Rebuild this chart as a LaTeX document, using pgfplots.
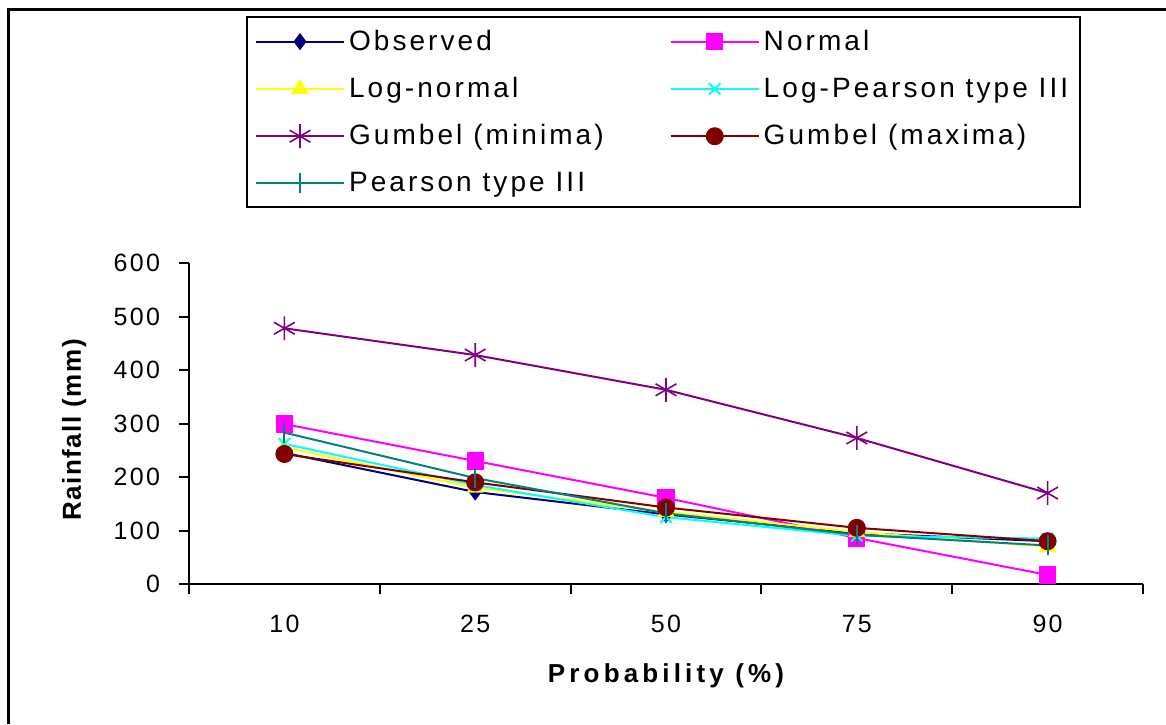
\documentclass[border=0pt]{standalone}
\usepackage{pgfplots}
\pgfplotsset{compat=1.18}
\usepackage{fontspec}
\setmainfont{Liberation Sans}
\newfontfamily\legfont[LetterSpace=11]{Liberation Sans}
\newfontfamily\tickfont[LetterSpace=9]{Liberation Sans}
\newfontfamily\ylabfont[LetterSpace=6]{Liberation Sans}
\newfontfamily\xlabfont[LetterSpace=16]{Liberation Sans}
\definecolor{cobs}{RGB}{0,0,128}
\definecolor{cnorm}{RGB}{255,0,255}
\definecolor{clogn}{RGB}{255,255,0}
\definecolor{clp}{RGB}{0,255,255}
\definecolor{cgmin}{RGB}{128,0,128}
\definecolor{cgmax}{RGB}{128,0,0}
\definecolor{cp3}{RGB}{0,128,128}
\begin{document}
\begin{tikzpicture}
\path[use as bounding box] (0pt,0pt) rectangle (583pt,362pt);
\draw[line width=1.5pt] (4pt,0pt) -- (4pt,357pt) -- (583pt,357pt);
\begin{axis}[
  at={(94.5pt,70pt)}, anchor=south west,
  scale only axis, width=477pt, height=160.5pt,
  xmin=-0.5, xmax=4.5, ymin=0, ymax=600,
  ytick={0,100,...,600},
  xtick={0,1,2,3,4}, xticklabels={10,25,50,75,90},
  minor xtick={-0.5,0.5,1.5,2.5,3.5,4.5},
  axis lines=left,
  axis line style={-, line width=1pt},
  tick align=outside,
  major tick length=5pt, minor tick length=5pt,
  major x tick style={draw=none},
  every tick/.style={black, line width=1pt},
  minor x tick style={black, line width=1pt},
  ytick style={black, line width=1pt},
  /pgf/number format/assume math mode=true,
  ticklabel style={font=\tickfont\fontsize{12.5}{14}\selectfont},
  xticklabel style={yshift=-7pt},
  yticklabel style={xshift=-6pt},
  xlabel={\xlabfont\bfseries\fontsize{13}{15}\selectfont Probability (\%)},
  ylabel={\ylabfont\bfseries\fontsize{13}{15}\selectfont Rainfall (mm)},
  xlabel style={at={(axis description cs:0.5,0)}, anchor=center, yshift=-46pt},
  ylabel style={at={(axis description cs:-0.1205,0.48)}, anchor=center},
  legend columns=2,
  legend style={at={(123pt-94.5pt, 354pt-70pt)}, anchor=north west,
    draw=black, line width=1pt, inner xsep=4pt, inner ysep=4.5pt,
    font=\legfont\fontsize{14}{16}\selectfont,
    row sep=8pt,
    /tikz/every even column/.append style={column sep=31pt},
    cells={anchor=west}},
  legend image code/.code={\draw[mark repeat=2,mark phase=2] plot coordinates {(0pt,0pt) (22pt,0pt) (44pt,0pt)};},
  every axis plot/.append style={line width=1pt},
]
\addplot[cobs, mark=diamond*, mark size=3.5pt, mark options={fill=cobs, draw=cobs}] coordinates {(0,245) (1,172) (2,130) (3,95) (4,80)};
\addlegendentry{Observed}
\addplot[cnorm, mark=square*, mark size=3.8pt, mark options={fill=cnorm, draw=cnorm}] coordinates {(0,299) (1,230) (2,161) (3,86) (4,17)};
\addlegendentry{Normal}
\addplot[clogn, mark=triangle*, mark size=4pt, mark options={fill=clogn, draw=clogn}] coordinates {(0,255) (1,180) (2,135) (3,97) (4,70)};
\addlegendentry{Log-normal}
\addplot[clp, mark=x, mark size=4pt, mark options={draw=clp}] coordinates {(0,262) (1,185) (2,125) (3,90) (4,85)};
\addlegendentry{Log-Pearson type III}
\addplot[cgmin, mark=asterisk, mark size=6pt, mark options={draw=cgmin, line width=0.8pt}] coordinates {(0,478) (1,428) (2,363) (3,273) (4,170)};
\addlegendentry{Gumbel (minima)}
\addplot[cgmax, mark=*, mark size=4pt, mark options={fill=cgmax, draw=cgmax}] coordinates {(0,243) (1,190) (2,143) (3,105) (4,80)};
\addlegendentry{Gumbel (maxima)}
\addplot[cp3, mark=|, mark size=5pt, mark options={draw=cp3}] coordinates {(0,283) (1,198) (2,132) (3,92) (4,72)};
\addlegendentry{Pearson type III}
\end{axis}
\end{tikzpicture}
\end{document}
